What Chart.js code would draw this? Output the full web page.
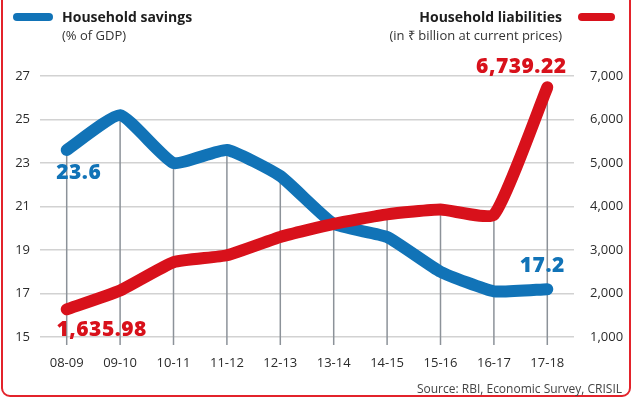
<!DOCTYPE html>
<html>
<head>
<meta charset="utf-8">
<script src="https://cdn.jsdelivr.net/npm/chart.js@4.4.1/dist/chart.umd.min.js"></script>
<style>
    html, body { margin: 0; padding: 0; background: #fff; }
    body { width: 634px; height: 398px; position: relative; overflow: hidden; font-family: "Open Sans", sans-serif; }
    #rand { position: absolute; left: 1px; top: -12px; width: 626px; height: 405px; border: 2px solid #e3232b; border-radius: 9px; }
    #grafiek { position: absolute; left: 0; top: 0; }
    .leg { position: absolute; color: #1d1d1d; line-height: 1; }
    .leg b { font-size: 14px; font-weight: 700; display: block; }
    .leg span { font-size: 13px; color: #333; display: block; margin-top: 5px; }
    .streep { position: absolute; height: 8px; border-radius: 4px; }
    #bron { position: absolute; right: 12px; top: 380px; font-size: 12px; color: #444; }
</style>
</head>
<body>
<div id="rand"></div>
<canvas id="grafiek" width="634" height="398"></canvas>
<div class="streep" style="left:13px; top:13px; width:40px; background:#1173b7;"></div>
<div class="leg" style="left:62px; top:10px;"><b>Household savings</b><span>(% of GDP)</span></div>
<div class="streep" style="left:578px; top:13px; width:37px; background:#d8111b;"></div>
<div class="leg" style="right:72px; top:10px; text-align:right;"><b>Household liabilities</b><span>(in ₹ billion at current prices)</span></div>
<div id="bron">Source: RBI, Economic Survey, CRISIL</div>
<script>
const jaren = ["08-09", "09-10", "10-11", "11-12", "12-13", "13-14", "14-15", "15-16", "16-17", "17-18"];
const spaargeld = [23.6, 25.2, 23.0, 23.6, 22.4, 20.2, 19.6, 18.0, 17.1, 17.2];
const schulden = [1635.98, 2070, 2720, 2880, 3300, 3600, 3820, 3930, 3810, 6739.22];
const linksTicks = [15, 17, 19, 21, 23, 25, 27];
const rechtsTicks = [1000, 2000, 3000, 4000, 5000, 6000, 7000];

const blauw = "#1173b7";
const rood = "#d8111b";

// ---- lijnen naar beneden ----
const dropLijnen = {
    id: "dropLijnen",
    beforeDatasetsDraw(chart) {
        const c = chart.ctx;
        const a = chart.getDatasetMeta(0).data;
        const b = chart.getDatasetMeta(1).data;
        c.save();
        c.strokeStyle = "#8c9299";
        c.lineWidth = 1.5;
        for (let i = 0; i < a.length; i++) {
            const top = Math.min(a[i].y, b[i].y);
            c.beginPath();
            c.moveTo(a[i].x, top);
            c.lineTo(a[i].x, chart.chartArea.bottom + 8);
            c.stroke();
        }
        c.restore();
    }
};

// ---- labels bij eerste en laatste punt ----
const waardeLabels = {
    id: "waardeLabels",
    afterDatasetsDraw(chart) {
        const c = chart.ctx;
        const a = chart.getDatasetMeta(0).data;
        const b = chart.getDatasetMeta(1).data;
        const n = a.length - 1;
        const fmt = v => v.toLocaleString("en-US", { minimumFractionDigits: 2 });
        c.save();
        c.font = "800 21px 'Open Sans'";
        c.letterSpacing = "0.5px";
        c.textAlign = "center";
        c.textBaseline = "middle";
        c.fillStyle = blauw;
        c.fillText(spaargeld[0].toFixed(1), a[0].x + 12, a[0].y + 23);
        c.fillText(spaargeld[n].toFixed(1), a[n].x - 5, a[n].y - 23);
        c.fillStyle = rood;
        c.fillText(fmt(schulden[0]), b[0].x + 35, b[0].y + 21);
        c.fillText(fmt(schulden[n]), b[n].x - 26, b[n].y - 20);
        c.restore();
    }
};

const ctx = document.getElementById("grafiek").getContext("2d");
const grafiek = new Chart(ctx, {
    type: "line",
    data: {
        labels: jaren,
        datasets: [{
            label: "Household savings",
            data: spaargeld,
            yAxisID: "links",
            borderColor: blauw,
            borderWidth: 12,
            tension: 0.15,
            borderCapStyle: "round",
            borderJoinStyle: "round",
            pointRadius: 0,
            fill: false,
            order: 1
        }, {
            label: "Household liabilities",
            data: schulden,
            yAxisID: "rechts",
            borderColor: rood,
            borderWidth: 12,
            tension: 0.15,
            borderCapStyle: "round",
            borderJoinStyle: "round",
            pointRadius: 0,
            fill: false,
            order: 0
        }]
    },
    options: {
        responsive: false,
        animation: false,
        layout: { padding: { left: 4, right: 4, top: 76, bottom: 31 } },
        plugins: {
            legend: { display: false },
            tooltip: { enabled: false }
        },
        scales: {
            x: {
                offset: true,
                grid: { display: false },
                border: { display: false },
                ticks: { color: "#2b2b2b", font: { family: "Open Sans", size: 13 }, padding: 10, maxRotation: 0 },
                afterFit: s => { s.height = 30; }
            },
            links: {
                position: "left",
                min: 15,
                max: 27,
                afterBuildTicks: s => { s.ticks = linksTicks.map(v => ({ value: v })); },
                grid: { color: "#d2d2d2", lineWidth: 1.5, drawTicks: false },
                border: { display: false },
                ticks: { color: "#2b2b2b", font: { family: "Open Sans", size: 13 }, padding: 10 },
                afterFit: s => { s.width = 36; }
            },
            rechts: {
                position: "right",
                min: 1000,
                max: 7000,
                afterBuildTicks: s => { s.ticks = rechtsTicks.map(v => ({ value: v })); },
                grid: { display: false },
                border: { display: false },
                ticks: {
                    color: "#2b2b2b",
                    font: { family: "Open Sans", size: 13 },
                    padding: 8,
                    callback: v => v.toLocaleString("en-US")
                },
                afterFit: s => { s.width = 56; }
            }
        }
    },
    plugins: [dropLijnen, waardeLabels]
});
</script>
</body>
</html>
